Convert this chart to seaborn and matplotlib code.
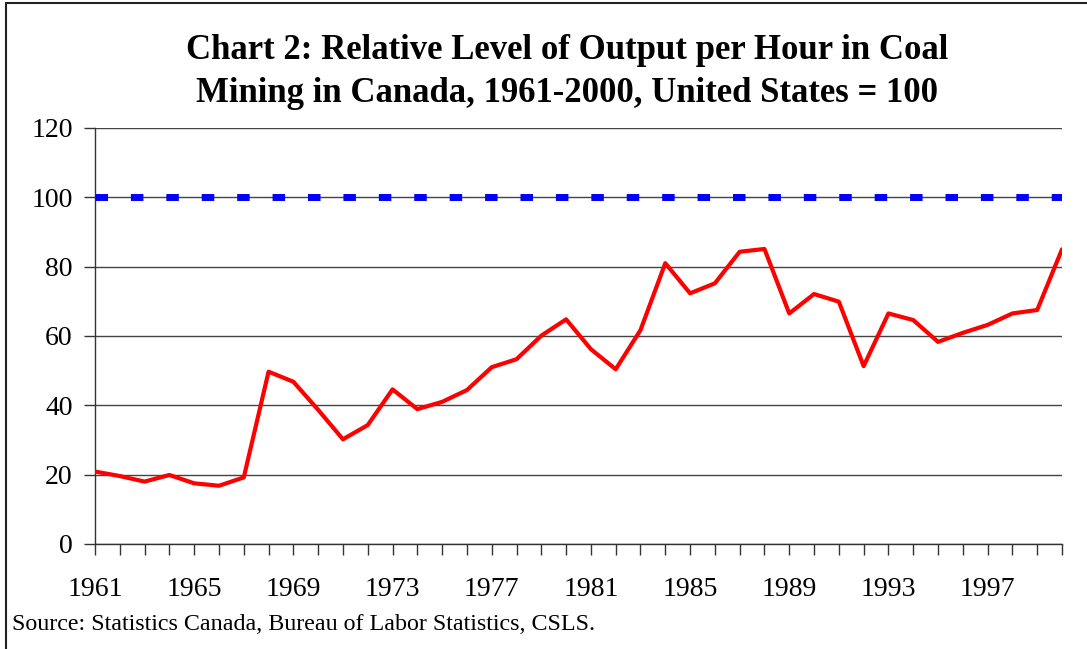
import seaborn as sns
import matplotlib.pyplot as plt
from matplotlib.lines import Line2D
import pandas as pd

years = list(range(1961, 2001))
canada = [20.9, 19.6, 18.0, 19.9, 17.5, 16.8, 19.2, 49.7, 46.8, 38.7,
          30.2, 34.3, 44.6, 38.9, 41.0, 44.4, 51.0, 53.3, 60.1, 64.8,
          56.2, 50.4, 61.7, 81.0, 72.3, 75.2, 84.3, 85.1, 66.5, 72.1,
          69.9, 51.3, 66.5, 64.6, 58.3, 60.9, 63.2, 66.5, 67.5, 85.0]
us = [100] * len(years)
label_years = list(range(1961, 2000, 4))

df = pd.DataFrame({'year': years, 'Canada': canada, 'United States': us})

sns.set_style('white')
plt.rcParams['font.family'] = ['Liberation Serif', 'DejaVu Serif']
plt.rcParams['text.color'] = 'black'
plt.rcParams['xtick.labelcolor'] = 'black'
plt.rcParams['ytick.labelcolor'] = 'black'

fig = plt.figure(figsize=(10.87, 6.49), dpi=100)
ax = fig.add_axes([0.0874, 0.1618, 0.8896, 0.641])

sns.lineplot(data=df, x='year', y='United States', ax=ax, color='#0000FF',
             linewidth=5, linestyle=(0, (1.8, 3.3)), zorder=3)
sns.lineplot(data=df, x='year', y='Canada', ax=ax, color='#FF0000',
             linewidth=3, zorder=4)

ax.set_xlim(1961, 2000)
ax.set_ylim(0, 120)
ax.set_yticks(range(0, 121, 20))
ax.set_xticks(years)
ax.set_xticklabels([str(y) if y in label_years else '' for y in years])
ax.grid(axis='y', color='#444444', linewidth=1)
ax.set_axisbelow(True)
for s in ['top', 'right']:
    ax.spines[s].set_visible(False)
for s in ['left', 'bottom']:
    ax.spines[s].set_color('#333333')
    ax.spines[s].set_linewidth(1)
ax.tick_params(axis='both', direction='out', length=8, width=1,
               color='#333333', labelsize=20)
ax.tick_params(axis='x', pad=16, bottom=True)
ax.tick_params(axis='y', pad=8, left=True)
ax.set_xlabel('')
ax.set_ylabel('')

fig.suptitle('Chart 2: Relative Level of Output per Hour in Coal\n'
             'Mining in Canada, 1961-2000, United States = 100',
             x=0.522, y=0.948, fontsize=25, fontweight='bold', linespacing=1.42,
             color='black')
fig.text(0.011, 0.037, 'Source: Statistics Canada, Bureau of Labor Statistics, CSLS.',
         fontsize=17.3, ha='left', va='center', color='black')

fig.add_artist(Line2D([0.0055, 0.0055], [0, 0.995], color='#222222', linewidth=1.5))
fig.add_artist(Line2D([0.0055, 1], [0.995, 0.995], color='#222222', linewidth=1.5))

plt.savefig('out.png', dpi=100)
